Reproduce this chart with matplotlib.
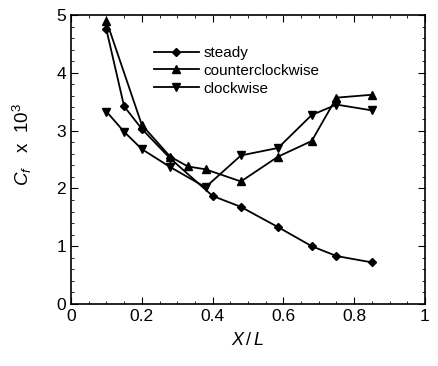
import matplotlib
matplotlib.use("Agg")
import matplotlib.pyplot as plt
from matplotlib.ticker import MultipleLocator

plt.rcParams['font.family'] = ['Liberation Sans', 'DejaVu Sans']
plt.rcParams['mathtext.fontset'] = 'custom'
plt.rcParams['mathtext.rm'] = 'Liberation Sans'
plt.rcParams['mathtext.it'] = 'Liberation Sans:italic'

x_steady = [0.10, 0.15, 0.20, 0.28, 0.40, 0.48, 0.585, 0.68, 0.75, 0.85]
y_steady = [4.75, 3.42, 3.03, 2.52, 1.87, 1.68, 1.33, 1.00, 0.83, 0.72]

x_ccw = [0.10, 0.20, 0.28, 0.33, 0.38, 0.48, 0.585, 0.68, 0.75, 0.85]
y_ccw = [4.90, 3.10, 2.55, 2.38, 2.33, 2.12, 2.55, 2.82, 3.57, 3.62]

x_cw = [0.10, 0.15, 0.20, 0.28, 0.38, 0.48, 0.585, 0.68, 0.75, 0.85]
y_cw = [3.33, 2.98, 2.68, 2.37, 2.02, 2.57, 2.70, 3.27, 3.45, 3.35]

fig = plt.figure(figsize=(4.39, 3.66), dpi=100)
ax = fig.add_axes([71/439, 1 - 304/366, (425 - 71)/439, (304 - 15)/366])

ax.plot(x_steady, y_steady, '-D', color='black', lw=1.3, ms=4.5, label='steady')
ax.plot(x_ccw, y_ccw, '-^', color='black', lw=1.3, ms=5.5, label='counterclockwise')
ax.plot(x_cw, y_cw, '-v', color='black', lw=1.3, ms=5.5, label='clockwise')

ax.set_xlim(0, 1)
ax.set_ylim(0, 5)
ax.set_xticks([0, 0.2, 0.4, 0.6, 0.8, 1.0])
ax.set_xticklabels(['0', '0.2', '0.4', '0.6', '0.8', '1'])
ax.xaxis.set_minor_locator(MultipleLocator(0.05))
ax.yaxis.set_major_locator(MultipleLocator(1))
ax.yaxis.set_minor_locator(MultipleLocator(0.2))
ax.tick_params(which='both', direction='in', top=True, right=True, labelsize=12.5)
ax.tick_params(which='major', length=5)
ax.tick_params(which='minor', length=2.5)
for s in ax.spines.values():
    s.set_linewidth(1.2)

ax.set_xlabel('$X\\,/\\,L$', fontsize=13, labelpad=6)
ax.set_ylabel('$C_f$   x  10$^3$', fontsize=13.5)
ax.yaxis.set_label_coords(-0.105, 0.55)

ax.legend(loc='upper left', bbox_to_anchor=(0.205, 0.93), frameon=False,
          fontsize=11, handlelength=2.9, handletextpad=0.3, labelspacing=0.25,
          borderpad=0.2)

fig.savefig('out.png', dpi=100)
